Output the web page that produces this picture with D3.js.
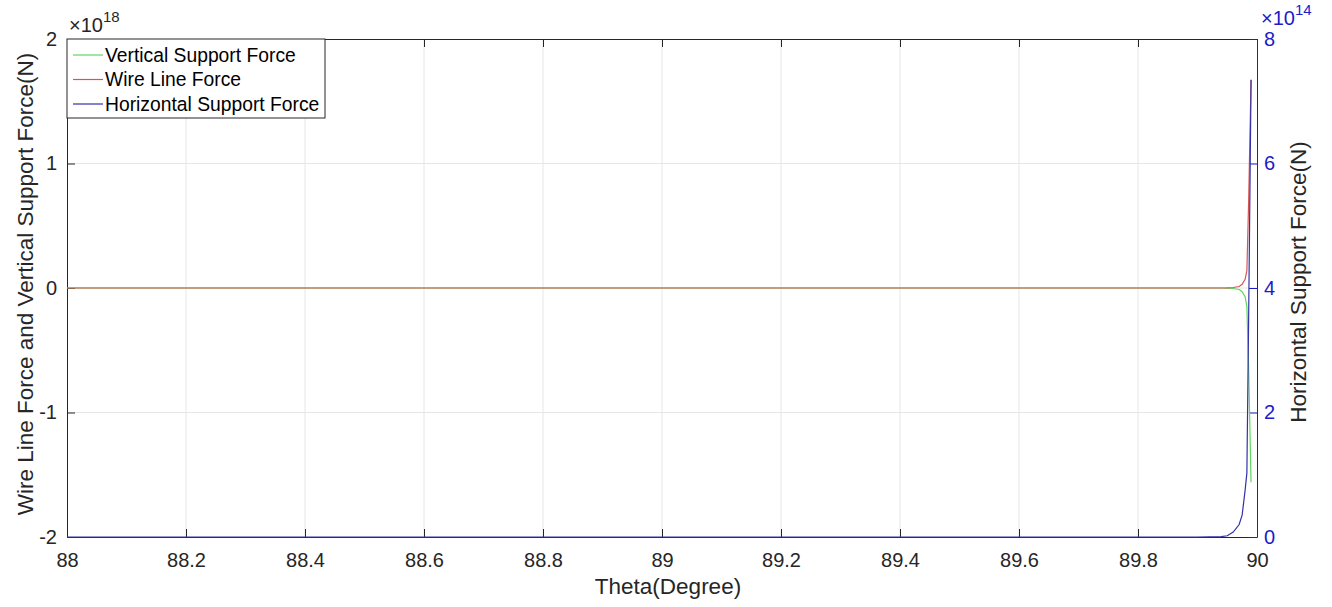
<!DOCTYPE html>
<html>
<head>
<meta charset="utf-8">
<script src="https://cdn.jsdelivr.net/npm/d3@7"></script>
<style>
  body { margin: 0; background: #fff; }
  text { font-family: "Liberation Sans", Arial, sans-serif; }
</style>
</head>
<body>
<div id="chart"></div>
<script>
// angle samples (degrees) and forces
const theta = [88, 88.5, 89, 89.5, 89.8, 89.9, 89.94, 89.95, 89.96, 89.97, 89.975, 89.98, 89.983, 89.986, 89.99];
// left axis, in units of 1e18 N
const vertical = [0, 0, 0, 0, 0, 0, 0, -0.001, -0.004, -0.012, -0.03, -0.07, -0.15, -0.66, -1.56];
const wire = [0, 0, 0, 0, 0, 0, 0, 0.001, 0.004, 0.012, 0.03, 0.07, 0.14, 0.7, 1.675];
// right axis, in units of 1e14 N
const horizontal = [0, 0, 0, 0, 0, 0, 0.005, 0.02, 0.08, 0.2, 0.35, 0.75, 1.03, 3.56, 7.34];

const xTicks = [88, 88.2, 88.4, 88.6, 88.8, 89, 89.2, 89.4, 89.6, 89.8, 90];
const leftTicks = [-2, -1, 0, 1, 2];
const rightTicks = [0, 2, 4, 6, 8];

const W = 1332, H = 607;
const plotL = 67, plotR = 1257, plotT = 39, plotB = 537;
const blue = "#1c1cc8";
const fmt = d => String(d); // plain hyphen minus, like the original

const x = d3.scaleLinear().domain([88, 90]).range([plotL, plotR]);
const yL = d3.scaleLinear().domain([-2, 2]).range([plotB, plotT]);
const yR = d3.scaleLinear().domain([0, 8]).range([plotB, plotT]);

const svg = d3.select("#chart").append("svg")
    .attr("width", W)
    .attr("height", H);

// grid
svg.append("g").selectAll("line")
    .data(xTicks.slice(1, -1))
    .enter().append("line")
    .attr("x1", d => x(d)).attr("x2", d => x(d))
    .attr("y1", plotT).attr("y2", plotB)
    .attr("stroke", "#e6e6e6");
svg.append("g").selectAll("line")
    .data(leftTicks.slice(1, -1))
    .enter().append("line")
    .attr("x1", plotL).attr("x2", plotR)
    .attr("y1", d => yL(d)).attr("y2", d => yL(d))
    .attr("stroke", "#e6e6e6");

// axes
const xAxis = svg.append("g")
    .attr("transform", `translate(0,${plotB})`)
    .call(d3.axisBottom(x).tickValues(xTicks).tickSizeInner(-8).tickSizeOuter(0).tickPadding(16).tickFormat(fmt));
const xTop = svg.append("g")
    .attr("transform", `translate(0,${plotT})`)
    .call(d3.axisTop(x).tickValues(xTicks).tickSizeInner(-8).tickSizeOuter(0).tickFormat(""));
const yAxisL = svg.append("g")
    .attr("transform", `translate(${plotL},0)`)
    .call(d3.axisLeft(yL).tickValues(leftTicks).tickSizeInner(-8).tickSizeOuter(0).tickPadding(10).tickFormat(fmt));
const yAxisR = svg.append("g")
    .attr("transform", `translate(${plotR},0)`)
    .call(d3.axisRight(yR).tickValues(rightTicks).tickSizeInner(-8).tickSizeOuter(0).tickPadding(7).tickFormat(fmt));

[xAxis, xTop, yAxisL].forEach(g => {
    g.selectAll("path, line").attr("stroke", "#262626");
    g.selectAll("text").attr("font-size", 20).attr("fill", "#262626")
        .attr("font-family", "Liberation Sans, Arial, sans-serif");
});
yAxisR.selectAll("path, line").attr("stroke", blue);
yAxisR.selectAll("text").attr("font-size", 20).attr("fill", blue)
    .attr("font-family", "Liberation Sans, Arial, sans-serif");
xAxis.selectAll("text").attr("dy", "0.71em");

// lines
const lineL = vals => d3.line().x((d, i) => x(theta[i])).y(d => yL(d))(vals);
const lineR = vals => d3.line().x((d, i) => x(theta[i])).y(d => yR(d))(vals);

svg.append("path").attr("d", lineL(vertical))
    .attr("fill", "none").attr("stroke", "#5fd65f").attr("stroke-width", 1.2);
svg.append("path").attr("d", lineL(wire))
    .attr("fill", "none").attr("stroke", "#d95555").attr("stroke-width", 1.2);
svg.append("path").attr("d", lineR(horizontal))
    .attr("fill", "none").attr("stroke", "#3232a8").attr("stroke-width", 1.2);

// exponent labels
const expL = svg.append("text").attr("x", 69).attr("y", 32).attr("font-size", 20).attr("fill", "#262626");
expL.append("tspan").text("\u00d710");
expL.append("tspan").attr("dy", -10).attr("font-size", 15).text("18");
const expR = svg.append("text").attr("x", 1261).attr("y", 25).attr("font-size", 20).attr("fill", blue);
expR.append("tspan").text("\u00d710");
expR.append("tspan").attr("dy", -10).attr("font-size", 15).text("14");

// axis titles
svg.append("text")
    .attr("x", 668).attr("y", 594)
    .attr("text-anchor", "middle").attr("font-size", 22.5).attr("fill", "#262626")
    .text("Theta(Degree)");
svg.append("text")
    .attr("transform", `translate(33,${(plotT + plotB) / 2 - 4}) rotate(-90)`)
    .attr("text-anchor", "middle").attr("font-size", 22.5).attr("fill", "#262626")
    .text("Wire Line Force and Vertical Support Force(N)");
svg.append("text")
    .attr("transform", `translate(1306,${(plotT + plotB) / 2 - 6}) rotate(-90)`)
    .attr("text-anchor", "middle").attr("font-size", 22.5).attr("fill", "#262626")
    .text("Horizontal Support Force(N)");

// legend
const legendItems = [
    { name: "Vertical Support Force", color: "#5fd65f" },
    { name: "Wire Line Force", color: "#d95555" },
    { name: "Horizontal Support Force", color: "#3232a8" }
];
const lg = svg.append("g");
lg.append("rect")
    .attr("x", plotL).attr("y", plotT)
    .attr("width", 258).attr("height", 79)
    .attr("fill", "#fff").attr("stroke", "#262626");
const item = lg.selectAll("g")
    .data(legendItems)
    .enter().append("g")
    .attr("transform", (d, i) => `translate(${plotL},${plotT + 16 + i * 24.5})`);
item.append("line")
    .attr("x1", 6).attr("x2", 36)
    .attr("stroke", d => d.color).attr("stroke-width", 1.2);
item.append("text")
    .attr("x", 38).attr("dy", "0.35em")
    .attr("font-size", 19.3).attr("fill", "#000")
    .text(d => d.name);
</script>
</body>
</html>
